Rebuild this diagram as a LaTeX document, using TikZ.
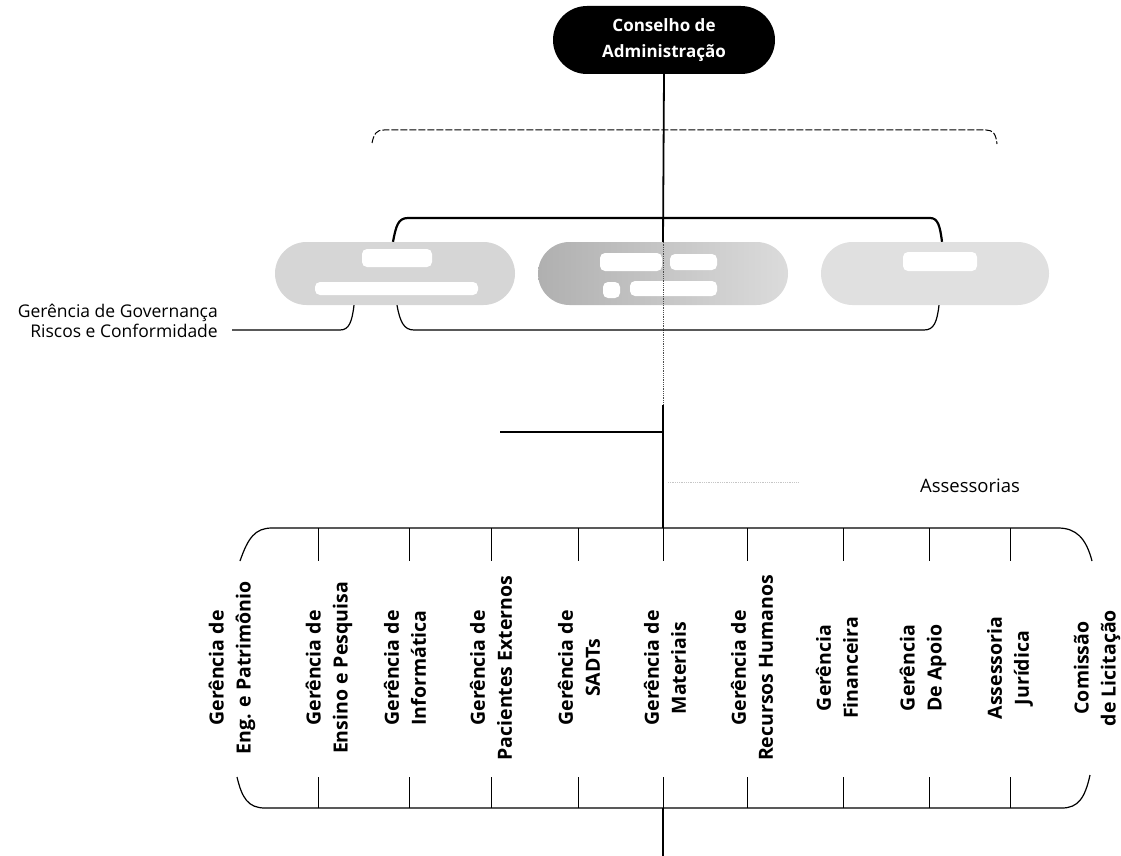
\documentclass[tikz,border=0pt]{standalone}
\usepackage{fontspec}
\setmainfont{Open Sans}
\usetikzlibrary{shapes.misc}
\begin{document}
\begin{tikzpicture}[x=1pt,y=-1pt,
  lbl/.style={rotate=90, align=center, inner sep=0pt,
    font=\bfseries\fontsize{19.5}{27}\selectfont},
  pillbox/.style={rounded rectangle, minimum height=63pt, inner sep=0pt, draw=none},
  blob/.style={fill=white, rounded corners=5pt},
  conn/.style={line width=1.2pt, black},
  thickconn/.style={line width=2.2pt, black},
  tickline/.style={line width=1pt, black},
  dashline/.style={line width=1pt, black, dash pattern=on 7pt off 2pt},
  faint/.style={line width=0.8pt, gray!70, densely dotted}
]
\useasboundingbox (0,0) rectangle (1121,856);

% top node
\node[rounded rectangle, fill=black, text=white, minimum width=222pt,
  minimum height=68pt, align=center, inner sep=0pt,
  font=\bfseries\fontsize{17}{26}\selectfont] (CA) at (664,40)
  {Conselho de\\Administração};

% grey pills
\node[pillbox, minimum width=240pt, fill=gray!32] (P1) at (395,273.5) {};
\node[pillbox, minimum width=250pt, left color=gray!62, right color=gray!28] (P2) at (663,273.5) {};
\node[pillbox, minimum width=228pt, fill=gray!24] (P3) at (935,273.5) {};
% blank text areas inside the pills
\fill[blob] (362,249) rectangle (432,267);
\fill[blob] (315,282) rectangle (478,295);
\fill[blob] (600,253) rectangle (662,271);
\fill[blob] (670,254) rectangle (717,270);
\fill[blob] (603,282) rectangle (620,298);
\fill[blob] (630,281) rectangle (717,296);
\fill[blob] (903,252) rectangle (977,271);

% main vertical line
\coordinate (v1) at (663,405);
\coordinate (v2) at (663,528);
\coordinate (v3) at (663,808);
\coordinate (bot) at (663,856);
\draw[thickconn, line width=1.8pt] (CA.south) -- (P2.north);
\draw[faint, black!70] (P2.north) -- (v1);
\draw[thickconn, line width=1.8pt] (v1) -- (v2);
\draw[thickconn, line width=1.8pt] (v3) -- (bot);

% dashed bracket
\coordinate (d1) at (372,143);
\coordinate (d2) at (997,144);
\draw[dashline] (d1) .. controls (374,134) and (376,130) .. (384,130) -- (986,130)
  .. controls (993,130) and (996,134) .. (d2);

% upper solid bracket
\coordinate (u1) at ([xshift=-2pt]P1.north);
\coordinate (u2) at ([xshift=7pt]P3.north);
\draw[thickconn] (u1) .. controls (396,226) and (398,218) .. (408,218) -- (930,218)
  .. controls (938,218) and (940,226) .. (u2);

% lower bracket
\coordinate (l1) at ([xshift=2pt]P1.south);
\coordinate (l2) at ([xshift=4pt]P3.south);
\draw[conn] (l1) .. controls (400,322) and (404,330) .. (414,330) -- (924,330)
  .. controls (934,330) and (937,322) .. (l2);

% governance
\node[anchor=east, align=right, inner sep=0pt,
  font=\fontsize{17.5}{20}\selectfont] (GG) at (218,321)
  {Gerência de Governança\\Riscos e Conformidade};
\coordinate (g1) at ([xshift=14pt]GG.east |- 0,330);
\coordinate (g2) at ([xshift=-41pt]P1.south);
\draw[conn] (g1) -- (340,330) .. controls (349,330) and (352,322) .. (g2);

% branch to the left
\coordinate (hb) at (663,432);
\coordinate (hl) at (500,432);
\draw[conn, line width=1.6pt] (hb) -- (hl);

% faint line and Assessorias
\coordinate (fa) at (668,482);
\coordinate (fb) at (798,482);
\draw[faint, gray!45] (fa) -- (fb);
\node[inner sep=0pt, font=\fontsize{18.5}{20}\selectfont] (AS) at (970,486) {Assessorias};

% bottom brackets
\coordinate (ta0) at (240,561);
\coordinate (ta10) at (1092,561);
\coordinate (ba0) at (237,777);
\coordinate (ba10) at (1090,775);
\draw[conn] (ta0) .. controls (248,538) and (255,528) .. (272,528) -- (1058,528)
  .. controls (1076,528) and (1086,538) .. (ta10);
\draw[conn] (ba0) .. controls (242,798) and (248,808) .. (265,808) -- (1062,808)
  .. controls (1078,808) and (1085,798) .. (ba10);

\foreach \i/\x in {1/318,2/409,3/491,4/578,5/663,6/747,7/843,8/929,9/1010} {
  \coordinate (ta\i) at (\x,528);
  \coordinate (tb\i) at (\x,561);
  \coordinate (ba\i) at (\x,777);
  \coordinate (bb\i) at (\x,808);
  \draw[tickline] (ta\i) -- (tb\i);
  \draw[tickline] (ba\i) -- (bb\i);
}

% labels
\node[lbl] (L1) at (232,668) {Gerência de\\Eng. e Patrimônio};
\node[lbl] (L2) at (329,668) {Gerência de\\Ensino e Pesquisa};
\node[lbl] (L3) at (405,668) {Gerência de\\Informática};
\node[lbl] (L4) at (491,668) {Gerência de\\Pacientes Externos};
\node[lbl] (L5) at (579,668) {Gerência de\\SADTs};
\node[lbl] (L6) at (665,668) {Gerência de\\Materiais};
\node[lbl] (L7) at (752,668) {Gerência de\\Recursos Humanos};
\node[lbl] (L8) at (837,668) {Gerência\\Financeira};
\node[lbl] (L9) at (923,668) {Gerência\\De Apoio};
\node[lbl] (L10) at (1010,668) {Assessoria\\Jurídica};
\node[lbl] (L11) at (1097,668) {Comissão\\de Licitação};
\end{tikzpicture}
\end{document}
